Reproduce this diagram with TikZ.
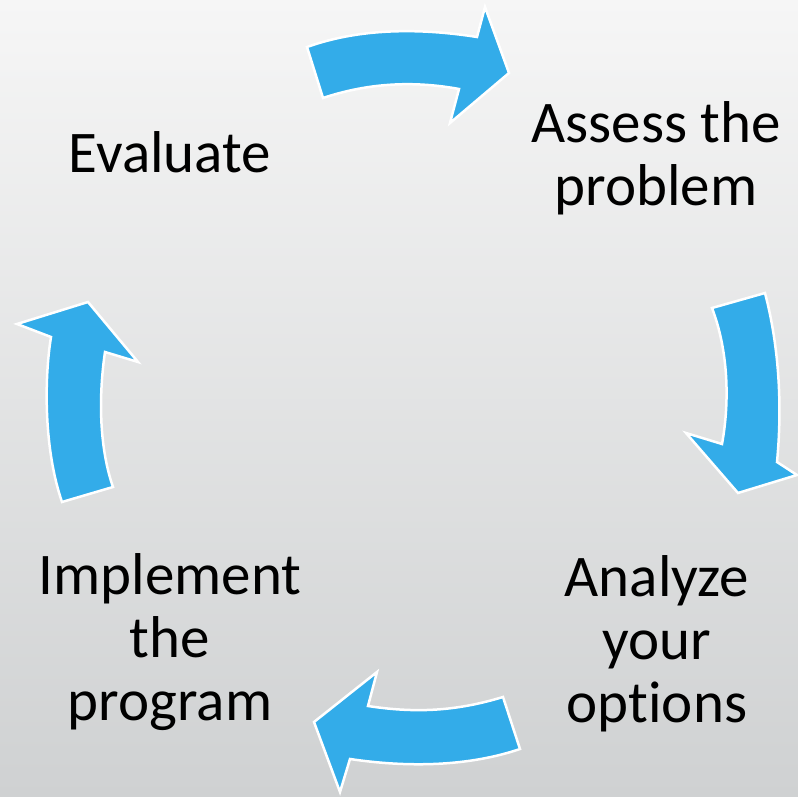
\documentclass[tikz,border=0pt]{standalone}
\usepackage{fontspec}
\setmainfont[Ligatures=NoCommon]{Carlito}
\definecolor{cycleblue}{HTML}{33ACE9}
\definecolor{bgtop}{HTML}{F6F6F6}
\definecolor{bgbottom}{HTML}{CFD1D2}

\begin{document}
\begin{tikzpicture}[x=1pt,y=-1pt,
	blockarrow/.style={fill=cycleblue, draw=white, line width=2.5pt, line join=miter},
	steplabel/.style={align=center, anchor=base, inner sep=0pt,
		font=\fontsize{59}{63}\selectfont}]

	\useasboundingbox (0,0) rectangle (798,797);
	\shade[top color=bgtop, bottom color=bgbottom] (0,0) rectangle (798,797);

	% the four bent arrows, clockwise from the top
	\draw[blockarrow] (307,47) .. controls (360,28) and (420,28) .. (477,37)
	-- (485,7) -- (509,73) -- (450,123) -- (459,89)
	.. controls (410,80) and (365,84) .. (323,98) -- cycle;
	\draw[blockarrow] (712,308) -- (765,293) .. controls (780,350) and
	(782,410) .. (777,462) -- (797,475) -- (738,493) -- (686,433) --
	(722,444) .. controls (730,400) and (728,350) .. (712,308) -- cycle;
	\draw[blockarrow] (503,697) -- (520,749) .. controls (470,766) and
	(410,768) .. (350,759) -- (340,792) -- (314,722) -- (377,672) --
	(368,706) .. controls (420,714) and (460,710) .. (503,697) -- cycle;
	\draw[blockarrow] (62,502) -- (113,487) .. controls (100,450) and
	(98,400) .. (105,352) -- (138,362) -- (88,302) -- (17,324) --
	(51,337) .. controls (44,380) and (44,450) .. (62,502) -- cycle;

	% base anchor sits on the last line
	\node[steplabel] (evaluate) at (170,172) {Evaluate};
	\node[steplabel] (assess) at (656,205) {Assess the\\problem};
	\node[steplabel] (analyze) at (657,722) {Analyze\\your\\options};
	\node[steplabel] (implement) at (170,720) {Implement\\the\\program};
\end{tikzpicture}
\end{document}
